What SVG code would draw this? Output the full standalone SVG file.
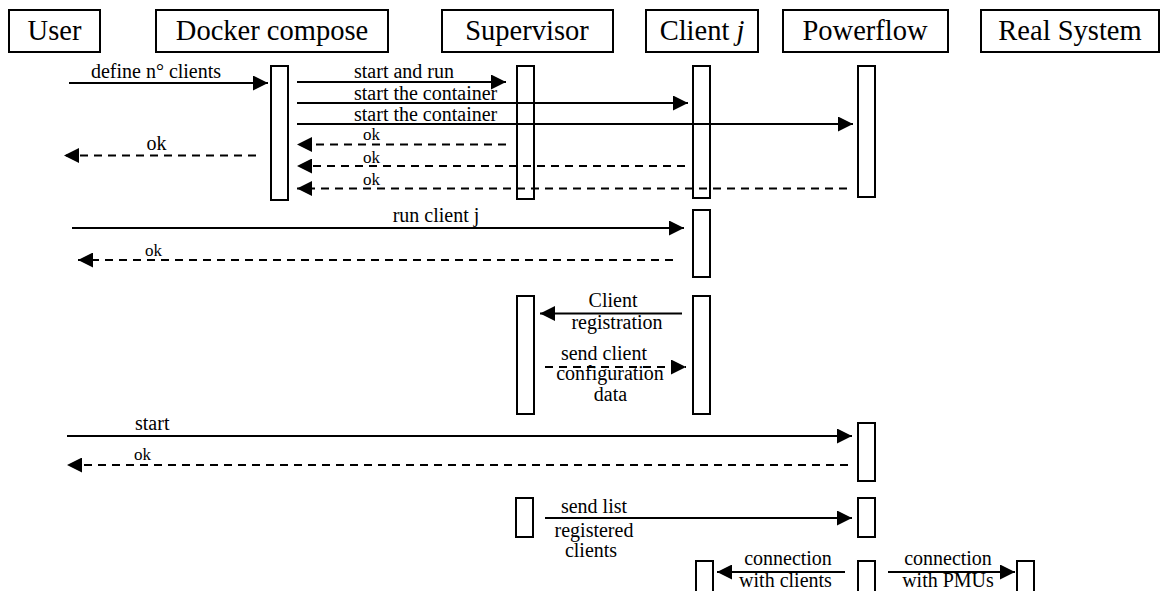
<svg xmlns="http://www.w3.org/2000/svg" width="1161" height="591" viewBox="0 0 1161 591" font-family="'Liberation Serif', 'Times New Roman', 'DejaVu Serif', serif">
<style>
.box{fill:#fff;stroke:#000;stroke-width:2}
.bar{fill:#fff;stroke:#000;stroke-width:2}
text{font-family:'Liberation Serif','Times New Roman','DejaVu Serif',serif;fill:#000}
.hd{font-size:28.5px;text-anchor:middle}
.lb{font-size:20px}
.sm{font-size:17px}
.m{text-anchor:middle}
.msg{stroke:#000;stroke-width:2.2;fill:none;marker-end:url(#ah)}
.ret{stroke:#000;stroke-width:2.2;fill:none;stroke-dasharray:8 6;marker-end:url(#ah)}
</style>
<defs>
<marker id="ah" viewBox="0 0 15 15" refX="15" refY="7.5" markerWidth="15" markerHeight="15" orient="auto" markerUnits="userSpaceOnUse">
<path d="M0,0 L15,7.5 L0,15 z" fill="#000"/>
</marker>
</defs>
<rect width="1161" height="591" fill="#fff"/>

<g id="user"><rect class="box" x="9" y="10" width="91" height="42"/><text class="hd" x="54.5" y="40">User</text></g>
<g id="docker"><rect class="box" x="156" y="10" width="232" height="42"/><text class="hd" x="272" y="40">Docker compose</text>
<rect class="bar" x="271" y="66" width="17" height="134"/></g>
<g id="supervisor"><rect class="box" x="442" y="10" width="171" height="42"/><text class="hd" x="527" y="40">Supervisor</text>
<rect class="bar" x="517" y="66" width="17" height="133"/>
<rect class="bar" x="517" y="296" width="17" height="118"/>
<rect class="bar" x="516" y="498" width="17" height="39"/></g>
<g id="client"><rect class="box" x="646" y="10" width="112" height="42"/><text class="hd" x="702" y="40">Client <tspan font-style="italic">j</tspan></text>
<rect class="bar" x="693" y="66" width="17" height="132"/>
<rect class="bar" x="693" y="210" width="17" height="67"/>
<rect class="bar" x="693" y="296" width="17" height="118"/>
<rect class="bar" x="696" y="561" width="17" height="32"/></g>
<g id="powerflow"><rect class="box" x="783" y="10" width="165" height="42"/><text class="hd" x="865" y="40">Powerflow</text>
<rect class="bar" x="858" y="66" width="17" height="131"/>
<rect class="bar" x="858" y="423" width="17" height="58"/>
<rect class="bar" x="858" y="498" width="17" height="39"/>
<rect class="bar" x="858" y="561" width="17" height="32"/></g>
<g id="realsystem"><rect class="box" x="981" y="10" width="178" height="42"/><text class="hd" x="1070" y="40">Real System</text>
<rect class="bar" x="1017" y="561" width="17" height="32"/></g>

<g id="connectors">
<line class="msg" x1="69" y1="83" x2="268" y2="83"/>
<line class="msg" x1="297" y1="82" x2="506" y2="82"/>
<line class="msg" x1="297" y1="103" x2="688" y2="103"/>
<line class="msg" x1="297" y1="124" x2="853" y2="124"/>
<line class="ret" x1="506" y1="144.5" x2="297" y2="144.5"/>
<line class="ret" x1="685" y1="166" x2="297" y2="166"/>
<line class="ret" x1="847" y1="188.5" x2="297" y2="188.5"/>
<line class="ret" x1="256" y1="155.5" x2="64" y2="155.5"/>
<line class="msg" x1="72" y1="228" x2="684" y2="228"/>
<line class="ret" x1="673" y1="260" x2="78" y2="260"/>
<line class="msg" x1="682" y1="313.5" x2="540" y2="313.5"/>
<line class="ret" x1="545" y1="367" x2="686" y2="367"/>
<line class="msg" x1="67" y1="436" x2="852" y2="436"/>
<line class="ret" x1="848" y1="465" x2="67" y2="465"/>
<line class="msg" x1="545" y1="518" x2="852" y2="518"/>
<line class="msg" x1="845" y1="572" x2="717" y2="572"/>
<line class="msg" x1="888" y1="572" x2="1015" y2="572"/>

<text class="lb m" x="156" y="78">define n° clients</text>
<text class="lb" x="354" y="78">start and run</text>
<text class="lb" x="354" y="100">start the container</text>
<text class="lb" x="354" y="120.5">start the container</text>
<text class="sm" x="363" y="140">ok</text>
<text class="sm" x="363" y="162.5">ok</text>
<text class="sm" x="363" y="185">ok</text>
<text class="lb" x="146.5" y="150">ok</text>
<text class="lb m" x="436" y="222">run client j</text>
<text class="sm" x="145" y="256">ok</text>
<text class="lb m" x="613" y="307">Client</text>
<text class="lb m" x="617" y="329">registration</text>
<text class="lb m" x="604" y="360" font-size="19">send client</text>
<text class="lb m" x="610" y="380" font-size="19">configuration</text>
<text class="lb m" x="610.5" y="401" font-size="19">data</text>
<text class="lb" x="135" y="430">start</text>
<text class="sm" x="134" y="460">ok</text>
<text class="lb m" x="594" y="513">send list</text>
<text class="lb m" x="594" y="536.5">registered</text>
<text class="lb m" x="591" y="556.5">clients</text>
<text class="lb m" x="788" y="565">connection</text>
<text class="lb m" x="785.5" y="587">with clients</text>
<text class="lb m" x="948" y="565">connection</text>
<text class="lb m" x="948" y="587">with PMUs</text>
</g>
</svg>
